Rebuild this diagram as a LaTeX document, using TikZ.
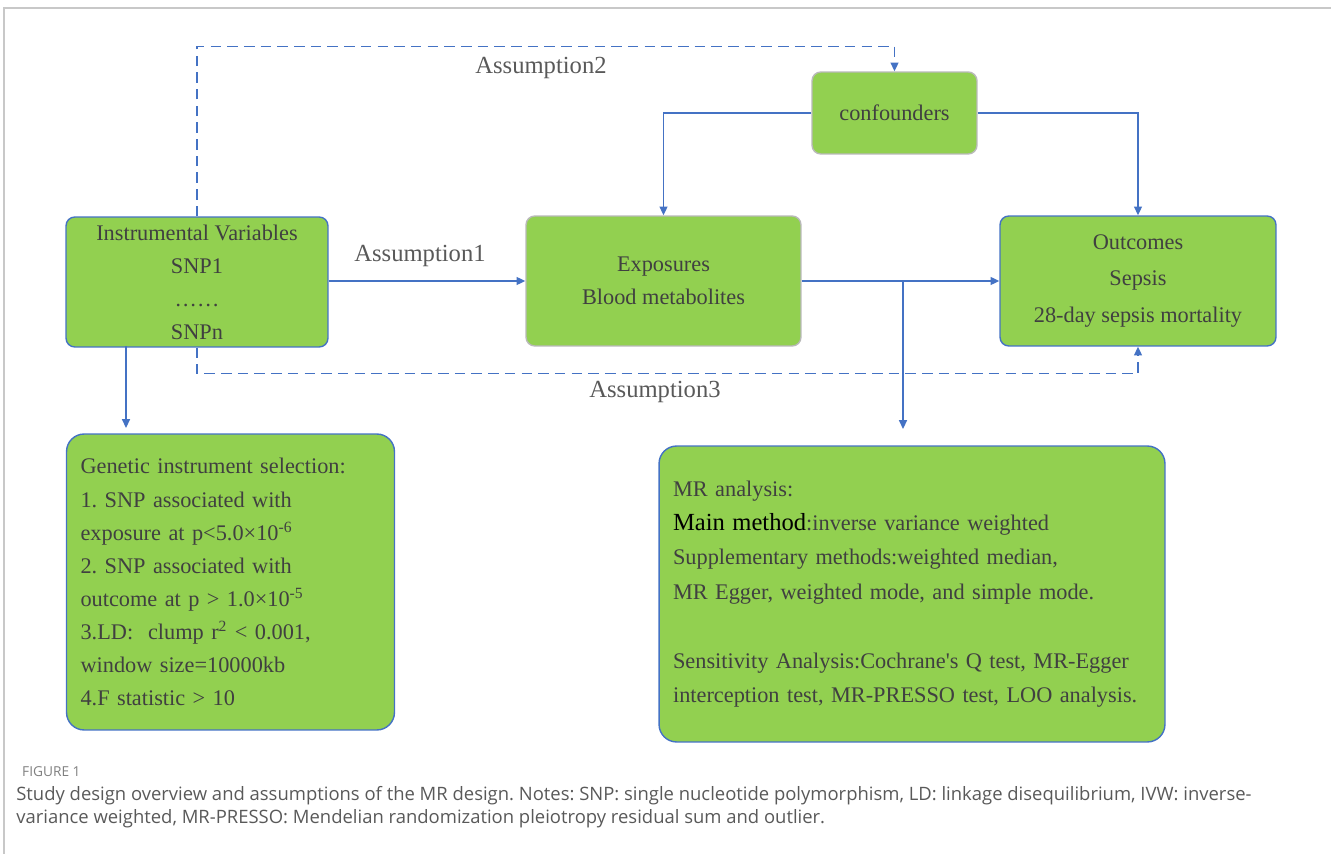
\documentclass[tikz,border=0pt]{standalone}
\usepackage{fontspec}
\setmainfont{Liberation Serif}
\newfontfamily\capfont{Open Sans}
\usepackage{xcolor}
\usetikzlibrary{arrows.meta, positioning, calc}
\definecolor{boxgreen}{HTML}{92D050}
\definecolor{lineblue}{HTML}{4472C4}
\definecolor{txtgray}{HTML}{404040}
\definecolor{lblgray}{HTML}{595959}
\definecolor{framegray}{HTML}{C8C8C8}
\frenchspacing
\tikzset{
    box/.style={draw=lineblue, fill=boxgreen, rounded corners=5pt, line width=0.8pt,
        text=txtgray, align=center, inner sep=0pt, font=\fontsize{12.7}{18.8}\selectfont},
    greybox/.style={box, draw=gray!55},
    bigbox/.style={box, rounded corners=10pt, align=left, inner xsep=0.28cm},
    arr/.style={-{Triangle[length=5pt, width=4.5pt]}, draw=lineblue, line width=0.9pt},
    dasharr/.style={arr, dash pattern=on 6pt off 3.5pt},
    assume/.style={text=lblgray, font=\fontsize{14}{16}\selectfont}
}

\begin{document}
\begin{tikzpicture}[x=0.02cm, y=-0.02cm]
    \useasboundingbox (0,0) rectangle (1331,854);
    % frame of the figure panel
    \draw[framegray, line width=1pt] (4,854) -- (4,8) -- (1331,8);
    % main boxes
    \node[box, minimum width=5.24cm, minimum height=2.6cm] (iv) at (197,282)
        {Instrumental Variables\\SNP1\\……\\SNPn};
    \node[greybox, minimum width=5.5cm, minimum height=2.6cm] (expo) at (663.5,281)
        {Exposures\\Blood metabolites};
    \node[box, minimum width=5.52cm, minimum height=2.6cm] (outc) at (1138,281)
        {Outcomes\\[2pt]Sepsis\\[2pt]28-day sepsis mortality};
    \node[greybox, minimum width=3.3cm, minimum height=1.64cm] (conf) at (894.5,113)
        {confounders};
    % lower boxes
    \node[bigbox, text width=6.0cm, minimum height=5.92cm] (gis) at (230.5,582)
        {Genetic instrument selection:\\
         1. SNP associated with\\
         exposure at p<5.0×10\textsuperscript{-6}\\
         2. SNP associated with\\
         outcome at p > 1.0×10\textsuperscript{-5}\\
         3.LD:\ \ clump r\textsuperscript{2} < 0.001,\\
         window size=10000kb\\
         4.F statistic > 10};
    \node[bigbox, text width=9.56cm, minimum height=5.92cm,
        font=\fontsize{12.7}{19.6}\selectfont] (mra) at (912,594)
        {MR analysis:\\
         {\color{black}\fontsize{14}{19.6}\selectfont Main method}:inverse variance weighted\\
         Supplementary methods:weighted median,\\
         MR Egger, weighted mode, and simple mode.\\[19.6pt]
         Sensitivity Analysis:Cochrane\textquotesingle s Q test, MR-Egger\\
         interception test, MR-PRESSO test, LOO analysis.};
    % assumption labels
    \node[assume] (a1) at (420,256) {Assumption1};
    \node[assume] (a2) at (541,68) {Assumption2};
    \node[assume] (a3) at (655,392) {Assumption3};
    % solid connectors
    \draw[arr] (iv.east |- expo) -- (expo);
    \draw[arr] (expo) -- (outc);
    \draw[arr] (conf.west) -| (expo.north);
    \draw[arr] (conf.east) -| (outc.north);
    \coordinate (ivfoot) at (126,346);
    \coordinate (gistip) at (126,428);
    \draw[arr] (ivfoot) -- (gistip);
    \coordinate (split) at (903,281);
    \coordinate (mratip) at (903,429);
    \draw[arr] (split) -- (mratip);
    % dashed assumption paths
    \draw[dasharr] (iv.north) -- ++(0,-170) -| (conf.north);
    \draw[dasharr] (iv.south) -- ++(0,26) -| (outc.south);
    % caption
    \node[anchor=west, text=gray, font=\capfont\fontsize{7.8}{9}\selectfont] (fig) at (16,772) {FIGURE 1};
    \node[anchor=north west, inner sep=0pt, text=lblgray, align=left,
        font=\capfont\fontsize{10.5}{13}\selectfont] (cap) at (16,786)
        {Study design overview and assumptions of the MR design. Notes: SNP: single nucleotide polymorphism, LD: linkage disequilibrium, IVW: inverse-\\
         variance weighted, MR-PRESSO: Mendelian randomization pleiotropy residual sum and outlier.};
\end{tikzpicture}
\end{document}
